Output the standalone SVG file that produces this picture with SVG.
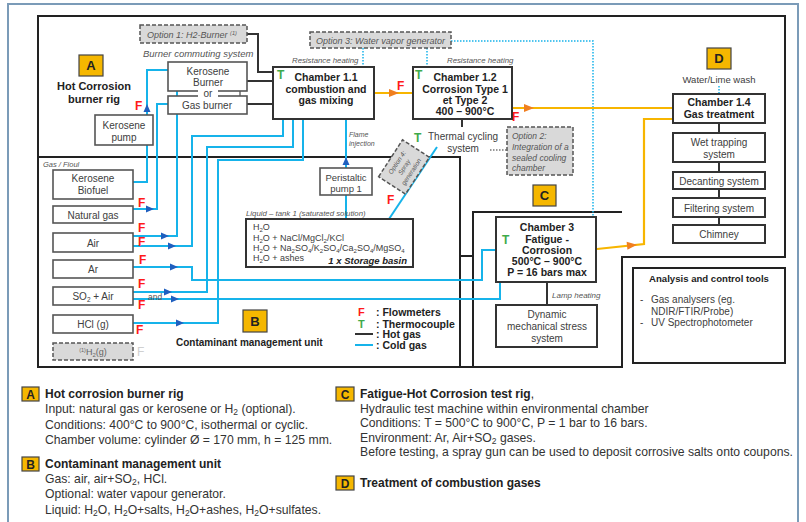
<svg xmlns="http://www.w3.org/2000/svg" width="806" height="522" viewBox="0 0 806 522">
<style>
.t{font-family:"Liberation Sans",Arial,sans-serif}
.b{font-weight:bold;fill:#222}
.i{font-style:italic}
.c{text-anchor:middle}
.bx{fill:#fff;stroke:#555;stroke-width:1.6}
.ch{fill:#fff;stroke:#333;stroke-width:2}
.opt{fill:#d9d9d9;stroke:#555;stroke-width:1.5;stroke-dasharray:4 2}
.badge{fill:#f5b700;stroke:#444;stroke-width:1.2}
.frame{fill:none;stroke:#222;stroke-width:2}
.cold{fill:none;stroke:#16b3ea;stroke-width:2}
.dot{fill:none;stroke:#16b3ea;stroke-width:1.5;stroke-dasharray:1.5 1.5}
.hot{fill:none;stroke:#333;stroke-width:2}
.org{fill:none;stroke:#f7b500;stroke-width:2.2}
.F{fill:#ff1a1a;font-weight:bold;font-size:12px}
.T{fill:#3faa4a;font-weight:bold;font-size:12px}
.n{font-size:12.2px;fill:#333}
</style>
<defs>
<path id="ab" d="M-4,-3.5 L4,0 L-4,3.5Z" fill="#1f5fbf"/>
<path id="ao" d="M-5,-4 L5,0 L-5,4Z" fill="#f07f20"/>
<path id="ad" d="M-3,0 L3,0 L0,5Z" fill="#222"/>
</defs>
<rect x="8" y="4" width="790" height="530" fill="#fff" stroke="#7b9bb8" stroke-width="2"/>
<g fill="#404040" font-size="10">

<g id="frames">
<path class="frame" d="M38,16 H785 V257 H622 V367 H38 Z"/>
<path class="frame" d="M38,157 H460 V367 M460,256 H473 M473,367 V212 H622"/>
<rect x="633" y="268" width="152" height="95" class="frame"/>
</g>

<g id="connectors">
<path class="cold" d="M133,182 H147 V70 H168"/>
<path class="cold" d="M133,209 H157 V104 H182"/>
<path class="cold" d="M133,236 H177 V78 H182"/>
<path class="cold" d="M133,246 H192 V136 H283 V119"/>
<path class="cold" d="M133,267 H192 V280 H482 V250 H497"/>
<path class="cold" d="M133,292 H207 V147 H293 V119"/>
<path class="cold" d="M133,299 H500 V270"/>
<path class="cold" d="M133,323 H218 V160 H303 V119"/>
<path class="cold" d="M346,105 V219"/>
<path class="cold" d="M389,219 L437,147"/>
<use href="#ab" x="150" y="209"/>
<use href="#ab" x="165" y="236"/>
<use href="#ab" x="172" y="246"/>
<use href="#ab" x="174" y="267"/>
<use href="#ab" x="168" y="292"/>
<use href="#ab" x="175" y="299"/>
<use href="#ab" x="180" y="323"/>
<use href="#ab" transform="translate(147,108) rotate(-90)"/>
<use href="#ab" transform="translate(346,161) rotate(-90)"/>
<path class="dot" d="M363,48 V67 M427,48 V67 M451,41 H593 V217 M719,86 V94"/>
<path class="hot" d="M247,34 H258 V72 H273 M247,81 H273 M247,104 H273 M462,119 V127 M547,282 V305 M719,123 V133 M719,162 V172 M719,189 V198 M719,217 V225"/>
<path d="M490,150 H507" fill="none" stroke="#333" stroke-width="1.2" stroke-dasharray="1.5 1.5"/>
<path class="org" d="M374,93 H413"/>
<path class="org" d="M512,108 H673"/>
<path class="org" d="M597,249 L644,244 V119 H673"/>
<use href="#ao" x="394" y="93"/>
<use href="#ao" x="529" y="108"/>
<use href="#ao" transform="translate(632,245.3) rotate(-6)"/>
<path d="M240,85 V100" stroke="#222" stroke-width="1"/>
<use href="#ad" transform="translate(240,81) rotate(180)"/>
<use href="#ad" x="240" y="99"/>
</g>

<g id="labelA">
<rect class="badge" x="79" y="55" width="24" height="21"/>
<text class="t b c" x="91" y="70" font-size="13">A</text>
<text class="t b c" x="94" y="90" font-size="11">Hot Corrosion</text>
<text class="t b c" x="94" y="103" font-size="11">burner rig</text>
</g>

<g id="option1">
<rect class="opt" x="140" y="25" width="107" height="18"/>
<text class="t i" x="147" y="37.5" font-size="9" fill="#555">Option 1: H2-Burner <tspan font-size="5.5" dy="-3">(1)</tspan></text>
</g>
<text class="t i" x="143" y="56.5" font-size="9.5" fill="#555">Burner commuting system</text>

<g id="kerosene-burner">
<rect class="bx" x="168" y="62" width="79" height="29"/>
<text class="t c" x="208" y="74.5">Kerosene</text>
<text class="t c" x="208" y="85.5">Burner</text>
</g>
<g id="gas-burner">
<rect class="bx" x="168" y="96" width="79" height="18"/>
<text class="t c" x="207" y="108.5">Gas burner</text>
</g>
<rect x="198" y="89" width="20" height="8" fill="#fff"/>
<text class="t c" x="208" y="96.5">or</text>

<g id="kerosene-pump">
<rect class="bx" x="95" y="115" width="58" height="30"/>
<text class="t c" x="124" y="128.5">Kerosene</text>
<text class="t c" x="124" y="140.5">pump</text>
</g>
<text class="F t" x="135" y="110">F</text>

<g id="option3">
<rect class="opt" x="310" y="32" width="141" height="16"/>
<text class="t i" x="316" y="43.5" font-size="9" fill="#555">Option 3: Water vapor generator</text>
</g>
<text class="t i" x="292" y="63" font-size="7.8" fill="#555">Resistance heating</text>
<text class="t i" x="447" y="63" font-size="7.8" fill="#555">Resistance heating</text>

<g id="chamber11">
<rect class="ch" x="273" y="67" width="101" height="52"/>
<text class="T t" x="277" y="79">T</text>
<text class="t b c" x="326" y="81" font-size="10.5">Chamber 1.1</text>
<text class="t b c" x="326" y="93" font-size="10.5">combustion and</text>
<text class="t b c" x="326" y="104" font-size="10.5">gas mixing</text>
</g>
<text class="F t" x="397" y="90">F</text>

<g id="chamber12">
<rect class="ch" x="413" y="67" width="99" height="52"/>
<text class="T t" x="415" y="79">T</text>
<text class="t b c" x="465" y="81" font-size="10.5">Chamber 1.2</text>
<text class="t b c" x="465" y="93" font-size="10.5">Corrosion Type 1</text>
<text class="t b c" x="465" y="104" font-size="10.5">et Type 2</text>
<text class="t b c" x="465" y="115" font-size="10.5">400 – 900°C</text>
</g>
<text class="F t" x="512" y="121">F</text>

<text class="T t" x="414" y="142">T</text>
<text class="t c" x="463" y="139.5">Thermal cycling</text>
<text class="t c" x="463" y="151.5">system</text>

<g id="option2">
<rect class="opt" x="507" y="127" width="66" height="48"/>
<text class="t i" x="512" y="139" font-size="8.5" fill="#555">Option 2:</text>
<text class="t i" x="512" y="150" font-size="8.5" fill="#555">Integration of a</text>
<text class="t i" x="512" y="161" font-size="8.5" fill="#555">sealed cooling</text>
<text class="t i" x="512" y="171" font-size="8.5" fill="#555">chamber</text>
</g>

<g id="labelD">
<rect class="badge" x="707" y="48" width="24" height="21"/>
<text class="t b c" x="719" y="63" font-size="13">D</text>
<text class="t c" x="719" y="83" font-size="9.5">Water/Lime wash</text>
</g>
<g id="chamber14">
<rect class="ch" x="673" y="94" width="92" height="29"/>
<text class="t b c" x="719" y="106" font-size="10.5">Chamber 1.4</text>
<text class="t b c" x="719" y="118" font-size="10.5">Gas treatment</text>
</g>
<g id="wet">
<rect class="ch" x="673" y="133" width="92" height="29"/>
<text class="t c" x="719" y="146">Wet trapping</text>
<text class="t c" x="719" y="158">system</text>
</g>
<g id="decanting">
<rect class="ch" x="673" y="172" width="92" height="17"/>
<text class="t c" x="719" y="184.5">Decanting system</text>
</g>
<g id="filtering">
<rect class="ch" x="673" y="198" width="92" height="19"/>
<text class="t c" x="719" y="211.5">Filtering system</text>
</g>
<g id="chimney">
<rect class="ch" x="673" y="225" width="92" height="18"/>
<text class="t c" x="719" y="237.5">Chimney</text>
</g>

<text class="t i" x="43" y="167" font-size="7.5" fill="#555">Gas / Fioul</text>
<g id="src-kerosene">
<rect class="bx" x="53" y="170" width="80" height="29"/>
<text class="t c" x="93" y="181.5">Kerosene</text>
<text class="t c" x="93" y="193.5">Biofuel</text>
</g>
<g id="src-natgas">
<rect class="bx" x="53" y="206" width="80" height="17"/>
<text class="t c" x="93" y="218.5">Natural gas</text>
</g>
<g id="src-air">
<rect class="bx" x="53" y="233" width="80" height="19"/>
<text class="t c" x="93" y="246.5">Air</text>
</g>
<g id="src-ar">
<rect class="bx" x="53" y="260" width="80" height="18"/>
<text class="t c" x="93" y="272.5">Ar</text>
</g>
<g id="src-so2">
<rect class="bx" x="53" y="287" width="80" height="18"/>
<text class="t c" x="93" y="299.5">SO<tspan font-size="6.5" dy="2">2</tspan><tspan dy="-2"> + Air</tspan></text>
</g>
<g id="src-hcl">
<rect class="bx" x="53" y="315" width="80" height="18"/>
<text class="t c" x="93" y="327.5">HCl (g)</text>
</g>
<g id="src-h2">
<rect class="opt" x="53" y="343" width="80" height="17"/>
<text class="t c" x="93" y="355" font-size="9" fill="#666"><tspan font-size="5.5" dy="-3">(1)</tspan><tspan dy="3">H</tspan><tspan font-size="6" dy="2">2</tspan><tspan dy="-2">(g)</tspan></text>
</g>
<text class="F t" x="138" y="207">F</text>
<text class="F t" x="138" y="232">F</text>
<text class="F t" x="138" y="246">F</text>
<text class="F t" x="139" y="264">F</text>
<text class="F t" x="138" y="288">F</text>
<text class="F t" x="138" y="309">F</text>
<text class="F t" x="136" y="334">F</text>
<text class="t" x="137" y="356" font-size="12" fill="#d0d0d0">F</text>
<text class="t" x="148" y="300" font-size="8.5" fill="#555">and</text>

<text class="t i" x="349" y="136.5" font-size="7" fill="#555">Flame</text>
<text class="t i" x="349" y="145.5" font-size="7" fill="#555">injection</text>

<g id="peristaltic">
<rect class="bx" x="320" y="168" width="52" height="27"/>
<text class="t c" x="346" y="180.5" font-size="9.5">Peristaltic</text>
<text class="t c" x="346" y="192" font-size="9.5">pump 1</text>
</g>

<g id="option4" transform="translate(404,167) rotate(-57)">
<rect class="opt" x="-22" y="-16" width="44" height="32"/>
<text class="t i c" x="0" y="-6" font-size="6.5" fill="#555">Option 4:</text>
<text class="t i c" x="0" y="2.5" font-size="6.5" fill="#555">Spray</text>
<text class="t i c" x="0" y="11" font-size="6.5" fill="#555">generation</text>
</g>
<text class="F t" x="387" y="204">F</text>

<g id="tank">
<text class="t i" x="246" y="216" font-size="7.8" fill="#555">Liquid – tank 1 (saturated solution)</text>
<rect class="ch" x="246" y="219" width="167" height="48"/>
<text class="t" x="253" y="230" font-size="9">H<tspan font-size="6" dy="2">2</tspan><tspan dy="-2">O</tspan></text>
<text class="t" x="253" y="241" font-size="9">H<tspan font-size="6" dy="2">2</tspan><tspan dy="-2">O + NaCl/MgCl</tspan><tspan font-size="6" dy="2">2</tspan><tspan dy="-2">/KCl</tspan></text>
<text class="t" x="253" y="251" font-size="9">H<tspan font-size="6" dy="2">2</tspan><tspan dy="-2">O + Na</tspan><tspan font-size="6" dy="2">2</tspan><tspan dy="-2">SO</tspan><tspan font-size="6" dy="2">4</tspan><tspan dy="-2">/K</tspan><tspan font-size="6" dy="2">2</tspan><tspan dy="-2">SO</tspan><tspan font-size="6" dy="2">4</tspan><tspan dy="-2">/Ca</tspan><tspan font-size="6" dy="2">2</tspan><tspan dy="-2">SO</tspan><tspan font-size="6" dy="2">4</tspan><tspan dy="-2">/MgSO</tspan><tspan font-size="6" dy="2">4</tspan></text>
<text class="t" x="253" y="261" font-size="9">H<tspan font-size="6" dy="2">2</tspan><tspan dy="-2">O + ashes</tspan></text>
<text class="t b i" x="407" y="264" font-size="9.5" text-anchor="end">1 x Storage basin</text>
</g>

<g id="labelB">
<rect class="badge" x="243" y="310" width="24" height="22"/>
<text class="t b c" x="255" y="325.5" font-size="13">B</text>
<text class="t b" x="176" y="346" font-size="10">Contaminant management unit</text>
</g>

<g id="legend">
<text class="F t" x="358" y="315.5" style="font-size:11px">F</text>
<text class="t b" x="376" y="315.5" font-size="10.5">: Flowmeters</text>
<text class="T t" x="358" y="327.5" style="font-size:11px">T</text>
<text class="t b" x="376" y="327.5" font-size="10.5">: Thermocouple</text>
<path class="hot" d="M355,334 H373"/>
<text class="t b" x="376" y="338" font-size="10.5">: Hot gas</text>
<path class="cold" d="M355,345 H373"/>
<text class="t b" x="376" y="349" font-size="10.5">: Cold gas</text>
</g>

<g id="labelC">
<rect class="badge" x="533" y="185" width="23" height="21"/>
<text class="t b c" x="544.5" y="200" font-size="13">C</text>
</g>
<g id="chamber3">
<rect class="ch" x="496" y="217" width="100" height="65"/>
<text class="T t" x="502" y="244">T</text>
<text class="t b c" x="547" y="231" font-size="10.5">Chamber 3</text>
<text class="t b c" x="547" y="243" font-size="10.5">Fatigue -</text>
<text class="t b c" x="547" y="254" font-size="10.5">Corrosion</text>
<text class="t b c" x="547" y="265" font-size="10.5">500°C – 900°C</text>
<text class="t b c" x="547" y="276" font-size="10.5">P = 16 bars max</text>
</g>
<text class="t i" x="552" y="298" font-size="8" fill="#555">Lamp heating</text>
<g id="dynamic">
<rect class="ch" x="496" y="305" width="101" height="42"/>
<text class="t c" x="547" y="318">Dynamic</text>
<text class="t c" x="547" y="330">mechanical stress</text>
<text class="t c" x="547" y="342">system</text>
</g>

<g id="analysis">
<text class="t b c" x="709" y="282" font-size="9.6">Analysis and control tools</text>
<text class="t" x="640" y="303">-</text>
<text class="t" x="651" y="303">Gas analysers (eg.</text>
<text class="t" x="651" y="315">NDIR/FTIR/Probe)</text>
<text class="t" x="640" y="326">-</text>
<text class="t" x="651" y="326">UV Spectrophotometer</text>
</g>

<g id="notes">
<rect class="badge" x="22" y="387" width="17" height="14"/>
<text class="t b c" x="30.5" y="398.5" font-size="12">A</text>
<text class="t b" x="45" y="398" font-size="12">Hot corrosion burner rig</text>
<text class="t n" x="45" y="413">Input: natural gas or kerosene or H<tspan font-size="8.5" dy="2">2</tspan><tspan dy="-2"> (optional).</tspan></text>
<text class="t n" x="45" y="429">Conditions: 400°C to 900°C, isothermal or cyclic.</text>
<text class="t n" x="45" y="444">Chamber volume: cylinder Ø = 170 mm, h = 125 mm.</text>
<rect class="badge" x="22" y="457" width="17" height="14"/>
<text class="t b c" x="30.5" y="468.5" font-size="12">B</text>
<text class="t b" x="45" y="468" font-size="12">Contaminant management unit</text>
<text class="t n" x="45" y="483">Gas: air, air+SO<tspan font-size="8.5" dy="2">2</tspan><tspan dy="-2">, HCl.</tspan></text>
<text class="t n" x="45" y="498">Optional: water vapour generator.</text>
<text class="t n" x="45" y="514">Liquid: H<tspan font-size="8.5" dy="2">2</tspan><tspan dy="-2">O, H</tspan><tspan font-size="8.5" dy="2">2</tspan><tspan dy="-2">O+salts, H</tspan><tspan font-size="8.5" dy="2">2</tspan><tspan dy="-2">O+ashes, H</tspan><tspan font-size="8.5" dy="2">2</tspan><tspan dy="-2">O+sulfates.</tspan></text>
<rect class="badge" x="336" y="387" width="18" height="14"/>
<text class="t b c" x="345" y="398.5" font-size="12">C</text>
<text class="t b" x="360" y="398" font-size="12">Fatigue-Hot Corrosion test rig<tspan font-weight="normal">,</tspan></text>
<text class="t n" x="360" y="413">Hydraulic test machine within environmental chamber</text>
<text class="t n" x="360" y="427">Conditions: T = 500°C to 900°C, P = 1 bar to 16 bars.</text>
<text class="t n" x="360" y="442">Environment: Ar, Air+SO<tspan font-size="8.5" dy="2">2</tspan><tspan dy="-2"> gases.</tspan></text>
<text class="t n" x="360" y="456">Before testing, a spray gun can be used to deposit corrosive salts onto coupons.</text>
<rect class="badge" x="336" y="476" width="18" height="14"/>
<text class="t b c" x="345" y="487.5" font-size="12">D</text>
<text class="t b" x="360" y="487" font-size="12">Treatment of combustion gases</text>
</g>
</g>
</svg>
